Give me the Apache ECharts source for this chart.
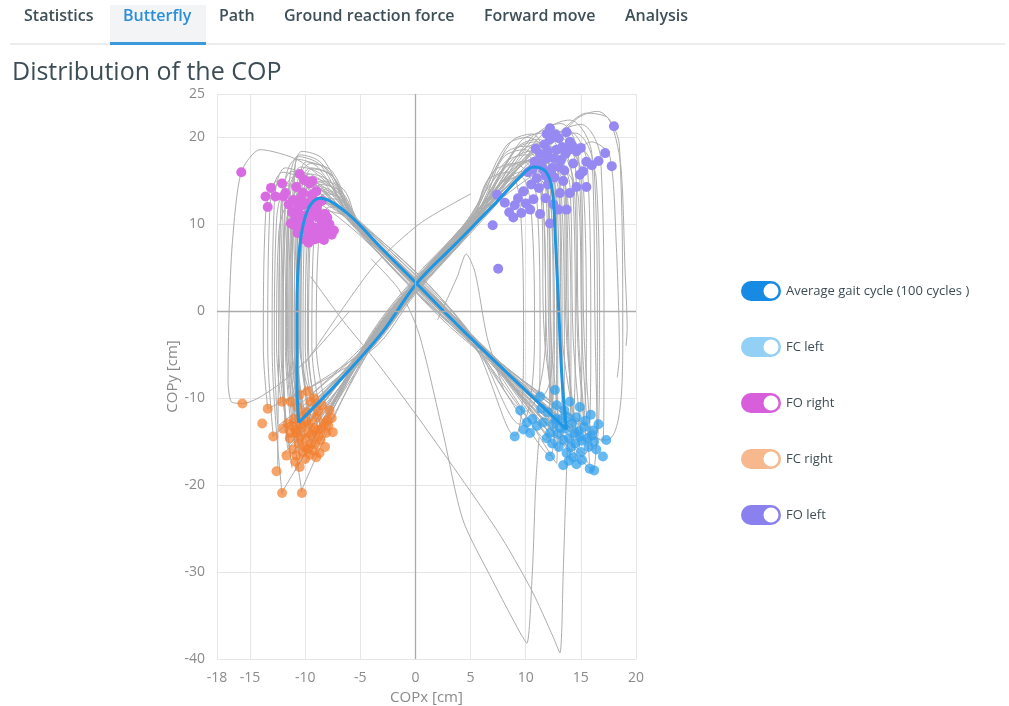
<!DOCTYPE html>
<html>
<head>
<meta charset="utf-8">
<title>Distribution of the COP</title>
<script src="https://cdn.jsdelivr.net/npm/echarts/dist/echarts.min.js"></script>
<style>
  html, body { margin: 0; padding: 0; background: #fff; }
  #main { width: 1009px; height: 706px; }
</style>
</head>
<body>
<div id="main"></div>
<script>
// header tabs
const tabNames = ['Statistics', 'Butterfly', 'Path', 'Ground reaction force', 'Forward move', 'Analysis'];
const activeTab = 'Butterfly';

const legendNames = ['Average gait cycle (100 cycles )', 'FC left', 'FO right', 'FC right', 'FO left'];

// average gait cycle, starts at FC right
const avgCycle = [
  [-10.6,-12.8],[-6.6,-7.6],[-3,-2.4],[0.1,3.2],[3.6,7.7],[7.3,12.5],[9.6,15.6],[10.7,16.6],
  [11.8,16.1],[12.4,14],[12.7,8],[13,0],[13.3,-8],[13.7,-13.6],[9.4,-8.4],[4.3,-2.2],[0.1,3.2],
  [-3.2,7.4],[-6.2,11.3],[-8.7,13],[-9.8,11.6],[-10.5,7.4],[-10.75,0],[-10.75,-8],[-10.6,-12.8]
];

// single gait cycles (grey)
const cycles = [
  [[-10.5,-14],[-4,-3.5],[0,3],[5,10],[9,16.5],[11,17.5],[12.8,13.5],[13.1,-3],[13.5,-13.5],[4.5,-2.5],[-5,9.5],[-7,13],[-9,14],[-10.6,10],[-10.8,-4],[-10,-13.5]],
  [[-9.5,-15],[-4,-3],[0,3.5],[5,10.5],[8,18],[10,19],[12,15],[12.3,-3],[12.5,-14.5],[4.5,-2.2],[-5,9.8],[-6.5,14],[-8.5,15],[-10,11],[-10.2,-4],[-9.5,-15.5]],
  [[-11,-12.5],[-4,-4],[0,2.5],[5,9.5],[10,17.5],[12,18.5],[14,14.5],[14.3,-3],[15,-14],[4.5,-2.9],[-5,9.1],[-8,12.5],[-10,13.5],[-11.5,9.5],[-11.7,-4],[-11,-12]],
  [[-8,-12],[-4,-2.7],[0,3.8],[5,10.8],[7,16],[9,17],[11,13],[11.3,-3],[11,-12],[4.5,-1.9],[-5,10.1],[-6.2,12.4],[-8,13],[-9.2,9],[-9.4,-4],[-8.5,-12.5]],
  [[-12,-16.5],[-4,-4.3],[0,2.2],[5,9.2],[11,19],[13,20],[15,16],[15.3,-3],[16,-16],[4.5,-3.1],[-5,8.9],[-9,14.5],[-11,15.5],[-12.2,11.5],[-12.4,-4],[-12.5,-18]],
  [[-10,-17.5],[-4,-3.3],[0,3.2],[5,10.2],[9.5,19.5],[11.5,20.5],[13.5,16.5],[13.8,-3],[14.5,-17],[4.5,-2.3],[-5,9.7],[-7.5,15.5],[-9.5,16.5],[-10.8,12.5],[-11,-4],[-10.5,-17]],
  [[-9,-13],[-4,-3.2],[0,3.3],[5,10.3],[8.5,15],[10.5,16],[12.3,12],[12.6,-3],[12,-12.5],[4.5,-2.4],[-5,9.6],[-6.8,11.8],[-8.8,12.5],[-9.8,8.5],[-10,-4],[-9,-13]],
  [[-11.5,-14.5],[-4,-3.8],[0,2.7],[5,9.7],[10.5,20],[12.5,21],[14.5,17],[14.8,-3],[15.5,-15],[4.5,-2.7],[-5,9.3],[-8.5,15],[-10.5,16],[-11.8,12],[-12,-4],[-11.7,-15]],
  [[-10.8,-11],[-4,-3.4],[0,3.1],[5,10.1],[8,17],[10,18],[11.5,14],[11.8,-3],[10,-11.5],[4.5,-2.1],[-5,9.9],[-7.2,13.5],[-9.2,14.5],[-10.4,10.5],[-10.6,-4],[-10.5,-11]],
  [[-9.8,-16],[-4,-2.9],[0,3.6],[5,10.6],[12,21],[14,22],[16,18],[16.3,-3],[16.5,-14],[4.5,-2.8],[-5,9.2],[-7.5,16],[-9.5,17],[-11,13],[-11.2,-4],[-10,-16.5]],
  [[-12.5,-13.2],[-4,-4.1],[0,2.4],[5,9.4],[9,18.5],[11,19.5],[13,15.5],[13.3,-3],[13,-16],[4.5,-2],[-5,10],[-9.5,13.5],[-11.5,14.5],[-12.6,10.5],[-12.8,-4],[-12.5,-13]],
  [[-8.5,-14],[-4,-3.1],[0,3.4],[5,10.4],[10,16],[12,17],[13.8,13],[14.1,-3],[14,-12],[4.5,-2.5],[-5,9.5],[-6.4,12.8],[-8.2,13.5],[-9.5,9.5],[-9.7,-4],[-8.8,-14]],
  [[-10.2,-12],[-4,-3.5],[0,3],[5,10],[7.5,14.5],[9.5,15.5],[10.5,11.5],[10.8,-3],[9.5,-13],[4.5,-1.7],[-5,10.3],[-7.8,12.4],[-9.8,13],[-10.8,9],[-11,-4],[-10.2,-12.3]],
  [[-11,-18.5],[-4,-3.7],[0,2.8],[5,9.8],[13,20.5],[15,21.5],[16.8,17.5],[17.1,-3],[17,-15],[4.5,-3],[-5,9],[-8.8,16.5],[-10.8,17.5],[-12,13.5],[-12.2,-4],[-11.2,-18]],
  [[-9.2,-14.8],[-4,-3.3],[0,3.2],[5,10.2],[9.8,17],[11.8,18],[13.2,14],[13.5,-3],[13.3,-14.8],[4.5,-2.4],[-5,9.6],[-7,13.2],[-9,14.2],[-10.2,10.2],[-10.4,-4],[-9.2,-14.8]],
  [[-7.8,-11.2],[-4,-2.5],[0,4],[5,11],[8.2,19],[10.2,20],[12.6,16],[12.9,-3],[12.8,-17.5],[4.5,-1.8],[-5,10.2],[-6.2,11.6],[-7.8,12],[-8.8,8],[-9,-4],[-8,-11.5]],
  [[-10.6,-15.5],[-4,-3.6],[0,2.9],[5,9.9],[10.8,15.8],[12.8,16.8],[14.8,12.8],[15.1,-3],[15.8,-17.6],[4.5,-2.6],[-5,9.4],[-8.2,14.2],[-10.2,15.2],[-11.2,11.2],[-11.4,-4],[-10.6,-15.8]],
  [[-12,-10.5],[-4,-3.9],[0,2.6],[5,9.6],[6.5,15],[8.5,16],[9.5,12],[9.8,-3],[9,-14.3],[4.5,-1.9],[-5,10.1],[-9,12],[-11,13],[-12.4,9],[-12.6,-4],[-12.2,-10.4]],
  [[-10.4,-20.8],[-4,-3.5],[0,3],[5,10],[11.5,18],[13.5,19],[15.2,15],[15.5,-3],[15,-13],[4.5,-2.3],[-5,9.7],[-8.5,17],[-10.5,18],[-11.5,14],[-11.7,-4],[-10.3,-20.8]],
  [[-12.1,-20.8],[-4,-4.2],[0,2.3],[5,9.3],[9.2,18.8],[11.2,19.8],[12.5,15.8],[12.8,-3],[12.2,-16.6],[4.5,-2.8],[-5,9.2],[-9.8,15.5],[-11.8,16.5],[-12.8,12.5],[-13,-4],[-12.1,-21]],
  [[-13.4,-11.2],[-4,-4.5],[0,2],[5,9],[14.5,22],[16.5,23],[18.5,19],[18.8,-3],[17.3,-14.8],[4.5,-3.3],[-5,8.7],[-10.5,14],[-12.5,15],[-13.6,11],[-13.8,-4],[-13.4,-11.2]],
  [[-9.5,-9.6],[-4,-3],[0,3.5],[5,10.5],[8.8,17.5],[10.8,18.5],[12.2,14.5],[12.5,-3],[11.3,-9.8],[4.5,-2.2],[-5,9.8],[-7.3,14],[-9.3,15],[-10.3,11],[-10.5,-4],[-9.5,-9.8]],
  [[-8.6,-13.6],[-4,-2.9],[0,3.6],[5,10.6],[10.2,18],[12.2,19],[13.6,15],[13.9,-3],[14.2,-16.2],[4.5,-2.3],[-5,9.7],[-6.6,13.6],[-8.6,14.6],[-9.6,10.6],[-9.8,-4],[-8.6,-13.4]],
  [[-13,-14.4],[-4,-4.3],[0,2.2],[5,9.2],[12.5,19.5],[14.5,20.5],[16.2,16.5],[16.5,-3],[16.1,-18.3],[4.5,-2.9],[-5,9.1],[-10,15],[-12,16],[-13.2,12],[-13.4,-4],[-12.9,-14.4]],
  [[-10.2,-13.8],[-4.5,-3.8],[-0.5,2.6],[4.2,9.6],[7.8,16.2],[9.8,17.2],[11.4,13.2],[11.7,-3],[12.8,-13.2],[5.2,-3.4],[-4.4,8.8],[-7.6,14.8],[-9.6,15.8],[-11,11.8],[-11.2,-4],[-10.4,-14.2]],
  [[-9.8,-14.6],[-3.4,-2.8],[0.6,3.8],[5.6,10.9],[9.6,18.4],[11.6,19.4],[13.4,15.4],[13.7,-3],[14.6,-14.2],[3.9,-1.6],[-5.6,10.4],[-8.4,15.6],[-10.4,16.6],[-11.4,12.6],[-11.6,-4],[-9.9,-14.9]],
  [[-11.6,-15.6],[-4.6,-4.6],[-0.4,2.1],[4.6,9.1],[10.6,18.6],[12.6,19.6],[14.2,15.6],[14.5,-3],[13.6,-15.4],[5.4,-3.7],[-4.2,8.4],[-8.9,13.8],[-10.9,14.8],[-11.9,10.8],[-12.1,-4],[-11.6,-15.8]],
  [[-10,-12.8],[-3.6,-2.6],[0.4,4.1],[5.4,11.2],[8.4,16.4],[10.4,17.4],[12,13.4],[12.3,-3],[13,-12.6],[4.1,-1.4],[-5.4,10.6],[-7.9,16.2],[-9.9,17.2],[-10.6,13.2],[-10.8,-4],[-10.1,-13]],
  [[-11.2,-16.4],[-4.4,-4.4],[-0.6,2],[4.4,9],[11.8,19.8],[13.8,20.8],[15.6,16.8],[15.9,-3],[15.4,-16.4],[5.6,-3.9],[-4.6,8.6],[-9.2,15.1],[-11.2,16.1],[-12.2,12.1],[-12.4,-4],[-11.3,-16.6]],
  [[-9.4,-12.4],[-3.3,-2.2],[0.8,4.4],[5.8,11.4],[7.9,17.6],[9.9,18.6],[11.8,14.6],[12.1,-3],[12.4,-11.8],[3.6,-1.2],[-5.8,10.8],[-7.4,15.4],[-9.4,16.4],[-10.2,12.4],[-10.4,-4],[-9.4,-12.6]],
  [[-10.9,-15.2],[-4.8,-4.2],[-0.8,2.4],[4,9.4],[9.4,16.6],[11.4,17.6],[13,13.6],[13.3,-3],[14.9,-15.6],[5.8,-3.6],[-4,8.5],[-8.2,13.2],[-10.2,14.2],[-11.3,10.2],[-11.5,-4],[-10.9,-15.4]],
  [[-8.8,-15.4],[-3.2,-2.4],[0.9,4.3],[6,11.6],[11.2,20.6],[13.2,21.6],[14.8,17.6],[15.1,-3],[14.4,-14],[3.8,-1.1],[-6,11.2],[-8.6,16.8],[-10.6,17.8],[-11,13.8],[-11.2,-4],[-8.9,-15.6]],
  [[-11.8,-13.8],[-5,-4.8],[-1,1.8],[4,8.8],[8.2,15.2],[10.2,16.2],[11.6,12.2],[11.9,-3],[12.6,-15.6],[6,-4],[-3.8,8.2],[-8.4,12.6],[-10.4,13.6],[-11.8,9.6],[-12,-4],[-11.8,-14]],
  [[-10.4,-16.6],[-3.8,-3.2],[0.2,3.4],[5.2,10.4],[12.4,18.2],[14.4,19.2],[16.4,15.2],[16.7,-3],[16.3,-15.8],[4.8,-2.4],[-5.2,9.7],[-8.3,17.4],[-10.3,18.4],[-11.1,14.4],[-11.3,-4],[-10.5,-16.8]],
  [[-9.9,-11.8],[-4.2,-3.4],[-0.2,3.2],[4.8,10.2],[8.6,19.4],[10.6,20.4],[11.9,16.4],[12.2,-3],[11.8,-14.8],[4.4,-2.6],[-5.2,9.4],[-7.7,14.4],[-9.7,15.4],[-10.6,11.4],[-10.8,-4],[-10,-12]],
  [[-11.3,-13],[-4.3,-3.9],[-0.3,2.8],[4.7,9.8],[10.9,17.4],[12.9,18.4],[14.4,14.4],[14.7,-3],[15.3,-13.2],[5,-3.1],[-4.8,9.1],[-8.1,13.6],[-10.1,14.6],[-11.6,10.6],[-11.8,-4],[-11.3,-13.2]]
];

// irregular traces
const oddCycles = [
  [[-6,12.5],[-10.5,17.3],[-14.1,18.6],[-15.8,16],[-16.6,8],[-16.9,0],[-17,-8],[-16.7,-10.4],[-15.7,-10.6],[-11,-7],[-6,0]],
  [[-4,6],[-1.5,2.5],[0.3,-2.5],[2.5,-14],[4.3,-24],[7,-31],[9.5,-37],[10.1,-38.2],[10.6,-30],[10.9,-20],[11.2,-14.5]],
  [[-9.5,4],[-6.5,-1.2],[-3.85,-5.3],[0.4,-12.5],[7.4,-25.2],[10.5,-32],[12.5,-37.5],[13.1,-39.3],[13.4,-30],[13.6,-22],[13.8,-15]],
  [[-10,-6],[-3.85,5.1],[0.4,10.1],[5,13.5]],
  [[2,-1],[3.8,4],[4.6,6.6],[5.4,4.5],[6.5,-3],[8,-9]],
  [[12,19],[15.5,22.8],[17.5,22.2],[18.6,17],[19,5],[19.2,-2],[19.1,-4]],
  [[13,17],[16,19.5],[17.6,18],[18.2,8],[18.5,-5],[18.3,-7.6]]
];

// gait events
const fcLeft = [
  [12.65,-9.05],[11.3,-9.8],[9.5,-11.4],[9.0,-14.4],[10.4,-14.0],[12.2,-16.7],[13.4,-17.7],[15.8,-18.1],
  [15.1,-17.1],[17.0,-16.7],[17.3,-14.8],[16.1,-13.7],[14.9,-11.0],[16.2,-18.3],[12.5,-13.0],[12.9,-14.1],
  [13.2,-12.4],[13.6,-13.5],[13.9,-14.6],[14.2,-12.9],[14.5,-15.2],[14.8,-13.8],[15.1,-14.9],[15.4,-12.6],
  [15.7,-15.6],[16.0,-14.3],[16.4,-15.9],[13.0,-15.6],[13.7,-16.3],[14.3,-16.8],[12.0,-11.6],[11.6,-12.8],
  [11.0,-13.2],[10.6,-12.4],[10.1,-12.8],[13.5,-11.4],[14.0,-10.4],[12.8,-10.8],[11.9,-14.6],[16.6,-13.0],
  [15.9,-11.9],[14.6,-17.6],[12.4,-15.2],[9.8,-13.6],[13.1,-13.4],[13.8,-12.2],[14.4,-14.0],[14.9,-14.4],
  [15.3,-13.3],[15.6,-14.6],[14.1,-15.6],[13.4,-14.8],[12.7,-12.4],[15.0,-16.2],[16.2,-15.0],[14.6,-12.2],
  [13.9,-17.2],[12.2,-14.0],[11.4,-11.2]
];
const foRight = [
  [-15.8,16],[-10.5,15.8],[-12.1,14.7],[-13.1,14.2],[-9.35,15.0],[-13.6,13.2],[-13.4,12.0],[-12.7,13.2],
  [-12,13.2],[-11.1,12.8],[-10.8,14.3],[-10.2,13.6],[-11.2,11.4],[-10.9,10.6],[-10.6,12.1],[-10.3,9.8],
  [-10.0,11.0],[-9.8,12.4],[-9.6,10.2],[-9.4,8.8],[-9.2,11.6],[-9.0,9.6],[-8.8,10.8],[-8.6,8.4],
  [-8.4,9.9],[-8.2,11.2],[-8.0,9.0],[-7.8,10.0],[-7.6,8.8],[-10.7,9.0],[-10.1,8.3],[-9.7,7.9],
  [-9.3,12.9],[-8.9,12.2],[-10.4,13.0],[-11.5,12.3],[-11.8,13.6],[-9.0,13.8],[-8.7,9.2],[-8.3,8.2],
  [-9.9,9.3],[-10.5,10.4],[-11.0,9.9],[-9.5,10.8],[-8.1,10.5],[-7.9,9.6],[-7.4,9.3],[-11.3,10.1],
  [-9.6,14.7],[-10.1,15.1],[-8.5,12.7],[-9.9,10.2],[-9.3,9.5],[-8.9,11.5],[-10.2,12.2],[-9.7,11.0],
  [-8.5,10.3],[-9.1,8.3],[-10.6,11.3],[-8.0,10.8],[-9.4,13.4]
];
const fcRight = [
  [-15.7,-10.6],[-13.4,-11.2],[-12.1,-10.4],[-11.3,-10.4],[-13.9,-12.9],[-12.9,-14.4],[-12,-13.5],[-11.7,-16.6],
  [-12.6,-18.4],[-10.5,-17.9],[-10.9,-17.3],[-12.1,-20.9],[-10.3,-20.9],[-9.57,-16.5],[-10.5,-9.6],[-9.8,-9.2],
  [-9.2,-10.0],[-8.5,-10.8],[-7.8,-11.4],[-7.6,-12.3],[-11.2,-13.2],[-10.8,-14.0],[-10.6,-15.2],[-10.3,-13.4],
  [-10.0,-14.6],[-9.8,-15.8],[-9.6,-13.0],[-9.4,-14.2],[-9.1,-15.3],[-8.9,-13.7],[-8.6,-14.8],[-8.3,-12.9],
  [-8.1,-14.0],[-7.9,-13.2],[-11.0,-12.4],[-10.4,-12.0],[-9.9,-11.6],[-9.0,-12.2],[-11.1,-15.9],[-10.2,-16.2],
  [-9.3,-16.0],[-8.7,-16.3],[-10.7,-11.0],[-9.5,-10.4],[-8.8,-11.5],[-11.4,-14.6],[-7.5,-13.9],[-10.0,-17.0],
  [-8.2,-15.6],[-10.9,-13.6],[-10.5,-14.5],[-10.1,-15.6],[-9.7,-14.0],[-9.2,-13.4],[-8.8,-14.4],[-9.5,-15.2],
  [-10.4,-13.0],[-11.3,-14.0],[-8.5,-13.5],[-9.0,-16.8],[-10.8,-16.6],[-9.9,-12.6],[-8.0,-12.5],[-11.6,-12.9]
];
const foLeft = [
  [18,21.3],[12.2,21.05],[13.7,20.6],[14.0,19.5],[17.2,18.2],[16.6,17.3],[17.8,16.7],[15.5,17.2],
  [14.6,18.4],[14.9,15.7],[14.6,14.3],[15.5,14.3],[14.0,13.6],[13.1,13.6],[13.7,11.7],[12.95,11.7],
  [12.2,10.1],[10.4,11.7],[8.87,10.8],[7.0,9.9],[7.5,4.9],[7.4,13.4],[8.1,12.5],[10.2,16.0],
  [10.8,17.2],[11.3,18.1],[11.7,19.2],[12.0,17.6],[12.4,16.5],[12.8,18.6],[13.2,17.4],[13.5,16.2],
  [11.0,15.3],[11.6,16.3],[12.2,19.8],[12.6,15.4],[13.0,19.9],[13.6,18.1],[14.3,17.0],[11.2,14.2],
  [10.5,14.6],[9.8,13.8],[9.3,13.0],[9.0,12.2],[8.5,11.4],[10.0,12.4],[10.7,12.9],[11.8,13.0],
  [12.5,12.3],[13.4,15.0],[12.0,14.6],[14.2,19.1],[15.0,18.8],[16.0,16.8],[15.2,16.1],[9.6,11.3],
  [11.3,11.2],[11.4,17.0],[12.0,18.4],[12.6,17.6],[13.0,16.6],[11.8,15.6],[12.3,15.9],[13.3,18.9],
  [10.6,16.3],[11.9,20.4],[12.7,20.3],[13.9,18.6],[10.9,18.7]
];

const chart = echarts.init(document.getElementById('main'), null, { renderer: 'canvas' });

// toggle switch icon for the legend
const toggleIcon = 'path://M10,0 L30,0 A10,10 0 0 1 30,20 L10,20 A10,10 0 0 1 10,0 Z M30,2.5 A7.5,7.5 0 0 0 30,17.5 A7.5,7.5 0 0 0 30,2.5 Z';
const legendColors = ['#178be4', '#93d0f5', '#d75fdb', '#f7b88e', '#8a80ee'];

const tabX = [24, 123, 219, 284, 484, 625];
const graphics = [
  { type: 'rect', shape: { x: 110, y: 5, width: 96, height: 38 }, style: { fill: '#f3f4f5' }, silent: true },
  { type: 'line', shape: { x1: 10, y1: 44, x2: 1005, y2: 44 }, style: { stroke: '#e5e7e9', lineWidth: 1.5 }, silent: true },
  { type: 'rect', shape: { x: 110, y: 42, width: 96, height: 3 }, style: { fill: '#3b99dc' }, silent: true }
];
tabNames.forEach(function (t, i) {
  graphics.push({
    type: 'text', left: tabX[i], top: 8, silent: true,
    style: {
      text: t, fontSize: 16, fontWeight: 600, fontFamily: 'Open Sans',
      fill: t === activeTab ? '#2a8fd8' : '#3f4f58'
    }
  });
});

const series = [];
series.push({
  type: 'line', name: 'zero', data: [], silent: true, z: 1,
  markLine: {
    silent: true, symbol: 'none', label: { show: false }, animation: false,
    lineStyle: { color: '#ababab', type: 'solid', width: 1.3 },
    data: [{ xAxis: 0 }, { yAxis: 0 }]
  }
});
cycles.forEach(function (c, i) {
  series.push({
    type: 'line', name: 'cycle ' + (i + 1), data: c, smooth: 0.35, symbol: 'none',
    silent: true, z: 2, lineStyle: { color: '#adadad', width: 1 }
  });
});
oddCycles.forEach(function (c, i) {
  series.push({
    type: 'line', name: 'odd ' + (i + 1), data: c, smooth: 0.25, symbol: 'none',
    silent: true, z: 2, lineStyle: { color: '#adadad', width: 1 }
  });
});
const scatterStyle = function (name, data, color, opacity) {
  return {
    type: 'scatter', name: name, data: data, symbolSize: 10, z: 3,
    itemStyle: { color: color, opacity: opacity }
  };
};
series.push(scatterStyle('FC left', fcLeft, '#34a2ee', 0.75));
series.push(scatterStyle('FO right', foRight, '#d96be2', 1));
series.push(scatterStyle('FC right', fcRight, '#f47d2c', 0.7));
series.push(scatterStyle('FO left', foLeft, '#968af2', 1));
series.push({
  type: 'line', name: legendNames[0], data: avgCycle, smooth: 0.35, symbol: 'none', z: 4,
  lineStyle: { color: '#1f96e2', width: 3 }, itemStyle: { color: '#1f96e2' }
});

const option = {
  animation: false,
  backgroundColor: '#ffffff',
  textStyle: { fontFamily: 'Open Sans' },
  title: {
    text: 'Distribution of the COP', left: 7, top: 55,
    textStyle: { fontSize: 25, fontWeight: 'normal', color: '#3d4d56', fontFamily: 'Open Sans' }
  },
  graphic: graphics,
  legend: {
    orient: 'vertical', left: 741, top: 281, padding: 0, itemWidth: 40, itemHeight: 20, itemGap: 36,
    icon: toggleIcon, selectedMode: false,
    textStyle: { fontSize: 13, color: '#3d4d56', fontFamily: 'Open Sans' },
    data: legendNames.map(function (n, i) {
      return { name: n, icon: toggleIcon, itemStyle: { color: legendColors[i], borderWidth: 0, opacity: 1 } };
    })
  },
  grid: { left: 217, right: 373, top: 94, bottom: 47, containLabel: false, outerBoundsMode: 'none' },
  xAxis: {
    type: 'value', min: -18, max: 20, minInterval: 5, maxInterval: 5,
    name: 'COPx [cm]', nameLocation: 'middle', nameGap: 29,
    nameTextStyle: { color: '#8a8a8a', fontSize: 15 },
    axisLine: { show: false },
    axisTick: { show: true, length: 8, lineStyle: { color: '#e4e4e4' } },
    axisLabel: { color: '#8a8a8a', fontSize: 14, margin: 12 },
    splitLine: { show: true, lineStyle: { color: '#e6e6e6' } }
  },
  yAxis: {
    type: 'value', min: -40, max: 25, minInterval: 10, maxInterval: 10,
    name: 'COPy [cm]', nameLocation: 'middle', nameGap: 36,
    nameTextStyle: { color: '#8a8a8a', fontSize: 15 },
    axisLine: { show: false },
    axisTick: { show: true, length: 8, lineStyle: { color: '#e4e4e4' } },
    axisLabel: { color: '#8a8a8a', fontSize: 14, margin: 12 },
    splitLine: { show: true, lineStyle: { color: '#e6e6e6' } }
  },
  series: series
};
chart.setOption(option);
</script>
</body>
</html>
